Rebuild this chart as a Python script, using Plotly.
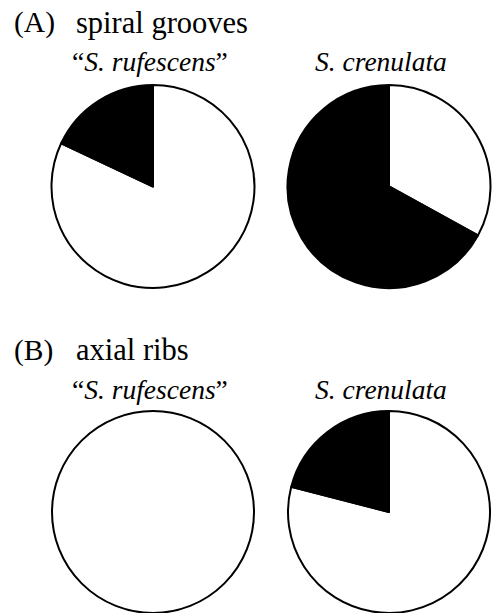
import plotly.graph_objects as go

W, H = 492, 613

species = ["“<i>S. rufescens</i>”", "<i>S. crenulata</i>"]
panel_tags = ["(A)", "(B)"]
panel_names = ["spiral grooves", "axial ribs"]
spiral_present = [18, 67]
spiral_absent = [82, 33]
axial_present = [0, 21]
axial_absent = [100, 79]

FONT = "Liberation Serif"

def py(px):
    return 1 - px / H

def px_x(px):
    return px / W

fig = go.Figure()

# pixel boxes for pies: (x0, x1, ytop, ybottom)
boxes = [
    (51, 255, 85, 288),
    (287, 491, 85, 288),
    (51, 255, 411, 613),
    (287, 491, 411, 613),
]
data = [
    (spiral_present[0], spiral_absent[0]),
    (spiral_present[1], spiral_absent[1]),
    (axial_present[0], axial_absent[0]),
    (axial_present[1], axial_absent[1]),
]

for (x0, x1, yt, yb), (p, a) in zip(boxes, data):
    # absent first (placed clockwise of 12 o'clock), present second
    # (placed counterclockwise of 12 o'clock)
    vals = [a, p] if p > 0 else [a]
    cols = ["white", "black"] if p > 0 else ["white"]
    fig.add_trace(go.Pie(
        values=vals,
        labels=["absent", "present"] if p > 0 else ["absent"],
        sort=False,
        direction="counterclockwise",
        rotation=0,
        marker=dict(colors=cols, line=dict(color="black", width=2)),
        textinfo="none",
        hoverinfo="none",
        showlegend=False,
        domain=dict(x=[px_x(x0), px_x(x1)], y=[max(0, py(yb)), py(yt)]),
    ))

annotations = []
title_y = [23, 350]
sub_y = [62, 389]
for i in range(2):
    annotations.append(dict(
        text=panel_tags[i], x=px_x(12), y=py(title_y[i]), xref="paper", yref="paper",
        xanchor="left", yanchor="middle", showarrow=False,
        font=dict(family=FONT, size=29.5, color="black"),
    ))
    annotations.append(dict(
        text=panel_names[i], x=px_x(74), y=py(title_y[i]), xref="paper", yref="paper",
        xanchor="left", yanchor="middle", showarrow=False,
        font=dict(family=FONT, size=30.5, color="black"),
    ))
    for j, s in enumerate(species):
        cx = [150, 381][j]
        annotations.append(dict(
            text=s, x=px_x(cx), y=py(sub_y[i]), xref="paper", yref="paper",
            xanchor="center", yanchor="middle", showarrow=False,
            font=dict(family=FONT, size=27.5, color="black"),
        ))

fig.update_layout(
    width=W, height=H,
    margin=dict(l=0, r=0, t=0, b=0),
    paper_bgcolor="white", plot_bgcolor="white",
    annotations=annotations,
)

fig.write_html("out.html", config={"displayModeBar": False},
               post_script="document.body.style.margin='0';")
